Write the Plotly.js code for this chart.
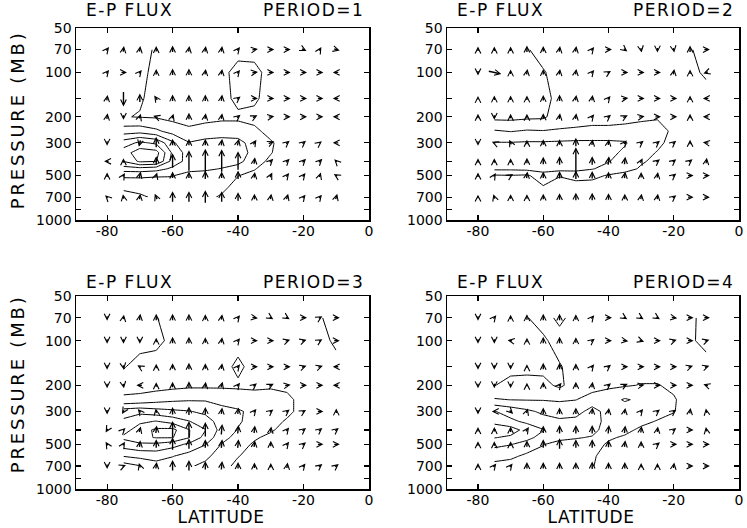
<!DOCTYPE html>
<html><head><meta charset="utf-8">
<script src="https://cdn.plot.ly/plotly-3.0.1.min.js"></script>
<style>
html,body{margin:0;padding:0;background:#fff;}
#plot{width:747px;height:528px;}
.annotation text{letter-spacing:1.5px;}
.annotation[data-index="8"] text,.annotation[data-index="9"] text{letter-spacing:2.8px;}
.annotation[data-index="10"] text,.annotation[data-index="11"] text{letter-spacing:0.6px;}
</style></head><body><div id="plot"></div><script>
// arrow grid
const LAT = [-80,-75,-70,-65,-60,-55,-50,-45,-40,-35,-30,-25,-20,-15,-10];
const PLEV = [70,100,150,200,300,400,500,700];
// contour grid
const CLAT = [-75,-70,-65,-60,-55,-50,-45,-40,-35,-30,-25,-20,-15,-10];
const CPLEV = [70,100,150,200,250,300,350,400,450,500,600,700];
const XTICKS = [-80,-60,-40,-20,0];
const YTICKS = [50,70,100,150,200,300,400,500,700,850,1000];
const YLABELS = ['50','70','100','','200','300','','500','700','','1000'];
const PERIODS = ['PERIOD=1','PERIOD=2','PERIOD=3','PERIOD=4'];

// Period 1 flux components (rows = PLEV, cols = LAT)
const U1 = [
 [4,1,1,0,0,1,1,1,4,7,7,7,6,3,7],
 [4,7,4,0,0,0,1,1,4,7,7,7,7,7,-7],
 [1,0,0,-4,0,0,0,1,5,7,7,7,7,7,-7],
 [1,0,2,-6,2,0,1,1,5,6,7,7,7,7,-7],
 [0,0,-2,0,0,0,0,1,2,4,7,5,5,4,-7],
 [-6,0,0,0,0,0,0,0,0,1,5,5,5,5,-4],
 [0,3,2,2,0,0,0,0,0,1,3,4,4,2,-5],
 [-4,-1,1,-3,0,0,0,0,0,0,1,2,4,4,2]];
const V1 = [
 [5,7,7,7,8,7,7,7,5,1,0,0,-3,5,-2],
 [5,0,5,7,8,8,7,7,5,1,0,0,0,0,0],
 [7,-16,10,6,8,8,8,8,4,0,0,0,0,0,0],
 [7,-6,6,2,6,8,7,7,4,3,1,0,0,0,0],
 [-6,0,-8,12,8,8,8,8,8,6,3,4,4,3,0],
 [0,6,0,10,16,22,25,24,20,8,5,5,5,5,4],
 [6,5,8,6,8,8,10,8,10,7,6,5,5,6,3],
 [4,6,7,7,12,12,14,12,10,7,7,7,5,5,7]];
// Period 2
const U2 = [
 [0,0,0,0,0,1,1,4,7,5,1,0,1,0,7],
 [0,14,0,1,0,1,1,4,5,7,7,7,1,0,-6],
 [0,0,0,0,0,0,1,1,4,7,7,7,7,0,-7],
 [0,0,0,0,0,1,1,4,5,6,7,7,7,0,-7],
 [0,-5,-3,0,0,0,0,1,1,4,5,5,5,0,-7],
 [0,0,0,0,0,0,0,0,1,1,3,5,5,5,1],
 [0,3,5,1,0,0,0,0,0,1,0,1,5,7,7],
 [0,-2,0,0,0,0,0,0,0,0,1,1,5,7,7]];
const V2 = [
 [6,6,6,8,7,7,7,5,0,-4,-6,-6,-6,8,0],
 [-6,-3,6,7,7,7,7,5,3,0,0,0,7,6,-2],
 [5,6,6,6,7,8,7,7,5,1,0,0,0,6,0],
 [6,-6,6,6,7,7,7,5,4,3,1,0,0,6,0],
 [-6,2,6,6,7,7,10,7,7,5,4,4,4,6,1],
 [6,6,6,7,9,10,28,10,10,9,6,4,4,4,7],
 [6,5,3,8,8,9,10,9,8,8,7,7,4,0,0],
 [5,6,6,6,7,8,9,9,8,7,7,7,4,0,0]];
// Period 3
const U3 = [
 [0,1,1,0,0,0,0,1,4,7,5,5,7,5,7],
 [0,0,0,0,0,0,0,1,4,7,7,6,6,5,7],
 [0,1,-5,0,0,0,0,1,4,7,7,7,6,6,-7],
 [0,1,-7,0,0,0,1,2,4,5,6,7,7,7,-7],
 [0,-3,-4,-1,0,0,0,1,1,4,5,5,5,7,0],
 [-3,4,2,1,0,0,0,1,1,1,1,4,5,5,5],
 [-3,3,1,0,0,0,0,1,1,1,0,4,5,7,7],
 [0,5,-2,1,0,0,0,1,0,0,0,1,4,5,5]];
const V3 = [
 [-6,6,8,8,8,8,7,7,5,-1,-3,-3,0,3,0],
 [-6,-6,-6,6,8,8,7,7,5,0,0,2,2,3,0],
 [-6,-6,3,6,7,8,7,7,5,0,0,0,2,2,0],
 [-6,-6,0,6,7,8,7,7,5,4,3,1,0,0,0],
 [-6,-5,5,6,9,10,9,8,8,5,4,4,3,0,6],
 [-5,4,7,9,18,18,16,12,10,9,7,5,4,4,4],
 [5,5,8,10,14,12,10,10,10,8,7,5,4,0,0],
 [-6,2,6,8,12,12,10,10,8,7,6,7,5,4,4]];
// Period 4
const U4 = [
 [0,4,0,0,0,0,0,4,7,5,5,5,7,7,7],
 [0,0,-6,0,0,0,0,5,7,7,6,7,6,7,6],
 [0,0,0,0,0,0,0,4,5,7,7,7,7,6,6],
 [0,0,0,0,0,4,0,1,5,6,7,7,7,7,-6],
 [0,-5,5,2,0,0,0,1,1,1,4,5,5,1,-1],
 [0,0,0,4,0,0,0,0,1,1,1,1,5,7,-1],
 [0,0,0,0,0,0,0,0,0,1,0,5,7,7,7],
 [0,4,4,0,0,0,0,0,0,0,0,0,1,7,7]];
const V4 = [
 [-6,5,6,7,8,8,7,5,0,-3,-3,-3,-1,0,0],
 [-6,-6,1,6,8,8,7,4,0,-1,-2,0,2,0,2],
 [-6,-6,-6,5,8,8,7,5,4,0,0,0,0,2,2],
 [-6,-6,-6,5,7,5,7,7,4,3,1,0,0,0,2],
 [-6,0,-5,6,8,8,8,8,7,7,5,4,4,7,6],
 [6,6,7,6,9,10,10,10,10,9,8,7,4,0,6],
 [6,6,6,8,10,12,10,10,9,8,7,4,0,0,0],
 [6,5,5,8,8,8,8,9,8,8,6,6,7,0,0]];

// contoured field (rows = CPLEV, cols = CLAT)
const Z1 = [
 [1.3,1.3,0.9,0.5,0.5,0.5,0.5,0.5,0.5,0.5,0.5,0.5,0.5,0.5],
 [1.3,1.2,0.8,0.5,0.5,0.5,0.6,1.5,1.4,0.5,0.5,0.5,0.5,0.5],
 [1.2,1.1,0.7,0.5,0.5,0.5,0.6,1.3,1.2,0.5,0.5,0.5,0.5,0.5],
 [1.05,0.95,0.9,0.7,0.6,0.7,0.8,0.8,0.7,0.5,0.5,0.5,0.5,0.5],
 [2.5,2.6,2.2,1.6,1.2,1.4,1.5,1.5,1.2,0.7,0.5,0.5,0.5,0.5],
 [4.5,5.2,4.8,3.2,2.05,2.3,2.4,2.3,1.6,1.1,0.6,0.5,0.5,0.5],
 [5.5,6.6,6.4,3.8,2.5,2.7,2.7,2.6,1.6,1.05,0.5,0.5,0.5,0.5],
 [5.05,6.2,6.05,3.6,2.6,2.6,2.5,2.3,1.4,0.8,0.5,0.5,0.5,0.5],
 [3.5,3.6,3.4,2.8,2.3,2.2,1.95,1.6,1.05,0.6,0.5,0.5,0.5,0.5],
 [2.2,2.2,2.1,2.05,1.6,1.5,1.4,1.02,0.8,0.5,0.5,0.5,0.5,0.5],
 [1.1,1.2,1.3,1.5,1.4,1.3,1.2,0.7,0.5,0.5,0.5,0.5,0.5,0.5],
 [0.8,0.9,1.1,1.3,1.3,1.2,0.9,0.6,0.5,0.5,0.5,0.5,0.5,0.5]];
const Z2 = [
 [-0.5,-0.5,-0.1,0.5,0.5,0.5,0.5,0.5,0.5,0.5,0.5,0.5,0.1,-0.5],
 [-0.5,-0.5,-0.4,-0.1,0.5,0.5,0.5,0.5,0.5,0.5,0.5,0.5,0.3,-0.2],
 [-0.5,-0.5,-0.5,-0.5,0.5,0.5,0.5,0.5,0.5,0.5,0.5,0.5,0.5,0.5],
 [-0.3,-0.3,-0.2,-0.15,0.5,0.6,0.7,0.7,0.7,0.8,0.9,0.6,0.5,0.5],
 [1.1,0.95,1.1,1.05,1.1,1.15,1.2,1.2,1.3,1.4,1.4,0.8,0.5,0.5],
 [2.05,2.05,2.1,2.1,2.15,2.2,2.2,2.2,2.1,1.4,1.2,0.7,0.5,0.5],
 [2.4,2.4,2.5,2.5,2.5,2.5,2.5,2.3,1.8,1.3,0.95,0.6,0.5,0.5],
 [2.5,2.5,2.6,2.6,2.6,2.6,2.5,2.05,1.6,1.1,0.8,0.5,0.5,0.5],
 [2.2,2.2,2.3,2.4,2.4,2.3,2.05,1.7,1.3,0.9,0.6,0.5,0.5,0.5],
 [0.9,0.95,0.85,1.6,1.05,1.4,1.3,0.9,0.7,0.5,0.5,0.5,0.5,0.5],
 [0.5,0.5,0.5,0.9,0.6,0.5,0.5,0.5,0.5,0.5,0.5,0.5,0.5,0.5],
 [0.5,0.5,0.5,0.5,0.5,0.5,0.5,0.5,0.5,0.5,0.5,0.5,0.5,0.5]];
const Z3 = [
 [-0.5,-0.5,-0.05,0.5,0.5,0.5,0.5,0.5,0.5,0.5,0.5,0.5,0.1,-0.5],
 [-0.5,-0.5,-0.3,0.3,0.5,0.5,0.5,0.5,0.5,0.5,0.5,0.5,0.5,-0.3],
 [-0.1,0.5,0.5,0.5,0.5,0.5,0.5,1.3,0.5,0.5,0.5,0.5,0.5,0.5],
 [0.6,0.6,0.6,0.7,0.8,0.8,0.8,0.8,0.8,0.9,0.8,0.5,0.5,0.5],
 [1.2,1.3,1.6,1.8,1.9,1.9,1.8,1.6,1.4,1.3,1.2,0.7,0.5,0.5],
 [3.5,3.7,3.4,3.2,3.05,2.8,2.2,2.1,1.8,1.5,1.2,0.7,0.5,0.5],
 [4.2,4.8,5.05,4.6,4.05,3.4,2.6,2.1,1.7,1.3,0.9,0.5,0.5,0.5],
 [4.6,5.5,6.2,6.3,5.05,4.05,2.6,1.95,1.5,1.1,0.7,0.5,0.5,0.5],
 [5.2,5.8,6.05,6.05,5.05,3.6,2.4,1.6,1.1,0.8,0.5,0.5,0.5,0.5],
 [4.5,4.8,4.8,4.4,3.8,3.05,1.95,1.3,0.9,0.6,0.5,0.5,0.5,0.5],
 [3.05,3.3,3.4,3.05,2.6,2.2,1.6,1.05,0.6,0.5,0.5,0.5,0.5,0.5],
 [1.5,1.95,2.6,2.4,2.1,1.8,1.4,0.7,0.5,0.5,0.5,0.5,0.5,0.5]];
const Z4 = [
 [-0.5,-0.5,-0.05,0.5,1.3,0.5,0.5,0.5,0.5,0.5,0.5,0.5,0.3,-0.5],
 [-0.5,-0.5,-0.5,-0.2,0.5,0.5,0.5,0.5,0.5,0.5,0.5,0.5,0.2,-0.4],
 [-0.5,-0.5,-0.4,-0.3,-0.1,0.5,0.5,0.5,0.5,0.5,0.5,0.5,0.5,0.5],
 [-0.05,0.5,0.5,0.3,-0.2,0.5,0.6,0.8,0.9,1.05,1.05,0.8,0.5,0.5],
 [1.1,0.98,0.95,0.95,0.9,0.98,1.4,1.6,2.1,1.8,1.6,1.1,0.5,0.5],
 [3.05,2.6,2.2,1.8,1.5,1.6,2.4,1.6,1.5,1.4,1.3,1.05,0.5,0.5],
 [3.5,3.2,2.8,2.4,2.2,2.3,2.5,1.6,1.4,1.2,0.95,0.7,0.5,0.5],
 [5.05,4.5,3.6,3.05,2.6,2.5,2.4,1.4,1.2,0.85,0.7,0.5,0.5,0.5],
 [4.05,3.8,3.3,2.6,2.3,2.1,1.9,1.1,0.9,0.7,0.5,0.5,0.5,0.5],
 [3.2,3.05,2.6,2.05,1.6,1.5,1.3,0.9,0.6,0.5,0.5,0.5,0.5,0.5],
 [2.5,2.2,1.8,1.6,1.4,1.3,1.1,0.7,0.5,0.5,0.5,0.5,0.5,0.5],
 [1.6,1.6,1.6,1.4,1.3,1.2,1.05,0.6,0.5,0.5,0.5,0.5,0.5,0.5]];

const W = 747, H = 528;
const FONT = 'DejaVu Sans, sans-serif';
// panel frames in pixels: [left, right, top, bottom]
const FR = [[76,369,28,220],[447,739,28,220],[76,369,296,489],[447,739,296,489]];
const US = [U1,U2,U3,U4], VS = [V1,V2,V3,V4], ZS = [Z1,Z2,Z3,Z4];

const layout = {width:W, height:H, margin:{l:0,r:0,t:0,b:0}, paper_bgcolor:'#fff', plot_bgcolor:'#fff',
  showlegend:false, annotations:[], font:{family:FONT, color:'#000'}};
const data = [];

function xAxis(f, anchor){
  return {domain:[f[0]/W, f[1]/W], anchor:anchor, range:[-89.5,0], tickmode:'array', tickvals:XTICKS,
    ticktext:XTICKS.map(String), ticks:'inside', ticklen:5, tickwidth:1.2, tickcolor:'#000',
    showline:true, linecolor:'#000', linewidth:1.5, mirror:'ticks', showgrid:false, zeroline:false,
    ticklabelstandoff:-2,
    tickfont:{family:FONT, size:14, color:'#000'}, fixedrange:true};
}
function yAxis(f, anchor){
  return {domain:[1-f[3]/H, 1-f[2]/H], anchor:anchor, type:'log', range:[Math.log10(1000), Math.log10(50)],
    tickmode:'array', tickvals:YTICKS, ticktext:YLABELS, ticks:'inside', ticklen:5, tickwidth:1.2, tickcolor:'#000',
    showline:true, linecolor:'#000', linewidth:1.5, mirror:'ticks', showgrid:false, zeroline:false,
    tickfont:{family:FONT, size:14, color:'#000'}, fixedrange:true};
}

// text annotations first (indices 0..11)
const titleY = [10,10,282,282];
FR.forEach((f,k)=>{
  layout.annotations.push({xref:'paper', yref:'paper', x:(f[0]+53)/W, y:1-titleY[k]/H, text:'E-P FLUX',
    showarrow:false, xanchor:'center', yanchor:'middle', borderpad:0, font:{family:FONT, size:17, color:'#000'}});
});
FR.forEach((f,k)=>{
  layout.annotations.push({xref:'paper', yref:'paper', x:(f[1]-56)/W, y:1-titleY[k]/H, text:PERIODS[k],
    showarrow:false, xanchor:'center', yanchor:'middle', borderpad:0, font:{family:FONT, size:17, color:'#000'}});
});
[120,384].forEach(yc=>{
  layout.annotations.push({xref:'paper', yref:'paper', x:17/W, y:1-yc/H, text:'PRESSURE (MB)', textangle:-90,
    showarrow:false, xanchor:'center', yanchor:'middle', borderpad:0, font:{family:FONT, size:18, color:'#000'}});
});
[221,591].forEach(xc=>{
  layout.annotations.push({xref:'paper', yref:'paper', x:xc/W, y:0, text:'LATITUDE',
    showarrow:false, xanchor:'center', yanchor:'bottom', borderpad:0, font:{family:FONT, size:17, color:'#000'}});
});

FR.forEach((f,k)=>{
  const s = k===0 ? '' : String(k+1);
  layout['xaxis'+s] = xAxis(f, 'y'+s);
  layout['yaxis'+s] = yAxis(f, 'x'+s);
  data.push({type:'contour', x:CLAT, y:CPLEV, z:ZS[k], xaxis:'x'+s, yaxis:'y'+s,
    autocontour:false, contours:{start:-1, end:8, size:1, coloring:'none'},
    line:{color:'#000', width:1, smoothing:0}, showscale:false, hoverinfo:'skip'});
  const U = US[k], V = VS[k];
  for(let i=0;i<PLEV.length;i++){
    for(let j=0;j<LAT.length;j++){
      const u = U[i][j], v = V[i][j];
      if(!u && !v) continue;
      layout.annotations.push({xref:'x'+s, yref:'y'+s, x:LAT[j], y:Math.log10(PLEV[i]), text:'',
        showarrow:true, arrowhead:5, arrowsize:0.8, arrowwidth:1.4, arrowcolor:'#000',
        ax:-u, ay:v, xshift:u/2, yshift:v/2, standoff:0, startstandoff:0});
    }
  }
});

Plotly.newPlot('plot', data, layout, {staticPlot:true, displayModeBar:false});
</script></body></html>
